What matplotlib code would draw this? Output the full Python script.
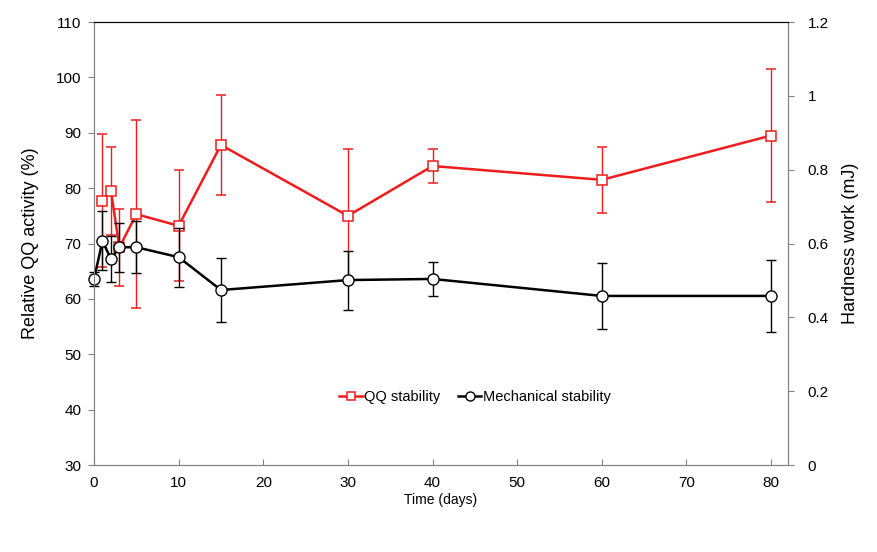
import matplotlib
matplotlib.use("Agg")
import matplotlib.pyplot as plt
from matplotlib.lines import Line2D

plt.rcParams['font.family'] = ['Liberation Sans', 'DejaVu Sans']

days_qq = [1, 2, 3, 5, 10, 15, 30, 40, 60, 80]
qq_activity = [77.7, 79.5, 69.3, 75.3, 73.2, 87.8, 75.0, 84.0, 81.5, 89.5]
qq_err = [12.0, 8.0, 7.0, 17.0, 10.0, 9.0, 12.0, 3.0, 6.0, 12.0]

days_mech = [0, 1, 2, 3, 5, 10, 15, 30, 40, 60, 80]
hardness = [0.504, 0.607, 0.558, 0.59, 0.59, 0.563, 0.474, 0.501, 0.504, 0.458, 0.458]
hard_err = [0.02, 0.08, 0.062, 0.066, 0.07, 0.08, 0.087, 0.08, 0.047, 0.09, 0.097]

xticks = [0, 10, 20, 30, 40, 50, 60, 70, 80]
left_ticks = [30, 40, 50, 60, 70, 80, 90, 100, 110]
right_ticks = [0, 0.2, 0.4, 0.6, 0.8, 1.0, 1.2]
right_labels = ['0', '0.2', '0.4', '0.6', '0.8', '1', '1.2']

red = '#ee1c1c'
fig = plt.figure(figsize=(8.77, 5.52), dpi=100)
ax = fig.add_axes([0.1072, 0.1576, 0.7913, 0.8025])
ax2 = ax.twinx()

c1 = ax.errorbar(days_qq, qq_activity, yerr=qq_err, color=red, lw=1.8, marker='s',
                 ms=7, mfc='white', mec=red, mew=1.1, ecolor=red, elinewidth=1.0,
                 capsize=3.5, capthick=1.0)
c2 = ax2.errorbar(days_mech, hardness, yerr=hard_err, color='black', lw=1.8, marker='o',
                  ms=8, mfc='white', mec='black', mew=1.0, ecolor='black', elinewidth=1.0,
                  capsize=3.5, capthick=1.0)
for c in (c1, c2):
    for art in c.get_children():
        art.set_clip_on(False)

ax.set_xlim(0, 82)
ax.set_ylim(30, 110)
ax2.set_ylim(0, 1.2)
ax.set_xticks(xticks)
ax.set_yticks(left_ticks)
ax2.set_yticks(right_ticks)
ax2.set_yticklabels(right_labels)

for a in (ax, ax2):
    for s in ('left', 'right', 'bottom'):
        a.spines[s].set_color('#808080')
    a.spines['top'].set_color('black')
ax.tick_params(axis='x', direction='in', length=4, color='#808080', labelsize=11, pad=8)
ax.tick_params(axis='y', direction='out', length=4, color='#808080', labelsize=11, pad=5)
ax2.tick_params(axis='y', direction='out', length=4, color='#808080', labelsize=11, pad=10)

ax.set_xlabel('Time (days)', fontsize=10, labelpad=2)
ax.set_ylabel('Relative QQ activity (%)', fontsize=13, labelpad=12)
ax2.set_ylabel('Hardness work (mJ)', fontsize=13, labelpad=10)

h1 = Line2D([], [], color=red, lw=1.8, marker='s', ms=6, mfc='white', mec=red, mew=1.1)
h2 = Line2D([], [], color='black', lw=1.8, marker='o', ms=6.5, mfc='white', mec='black', mew=1.0)
ax2.legend([h1, h2], ['QQ stability', 'Mechanical stability'], loc='center',
           bbox_to_anchor=(0.549, 0.153), ncol=2, frameon=False, fontsize=10.5,
           handlelength=1.6, handletextpad=0.1, columnspacing=1.2)

fig.savefig('out.png', dpi=100)
